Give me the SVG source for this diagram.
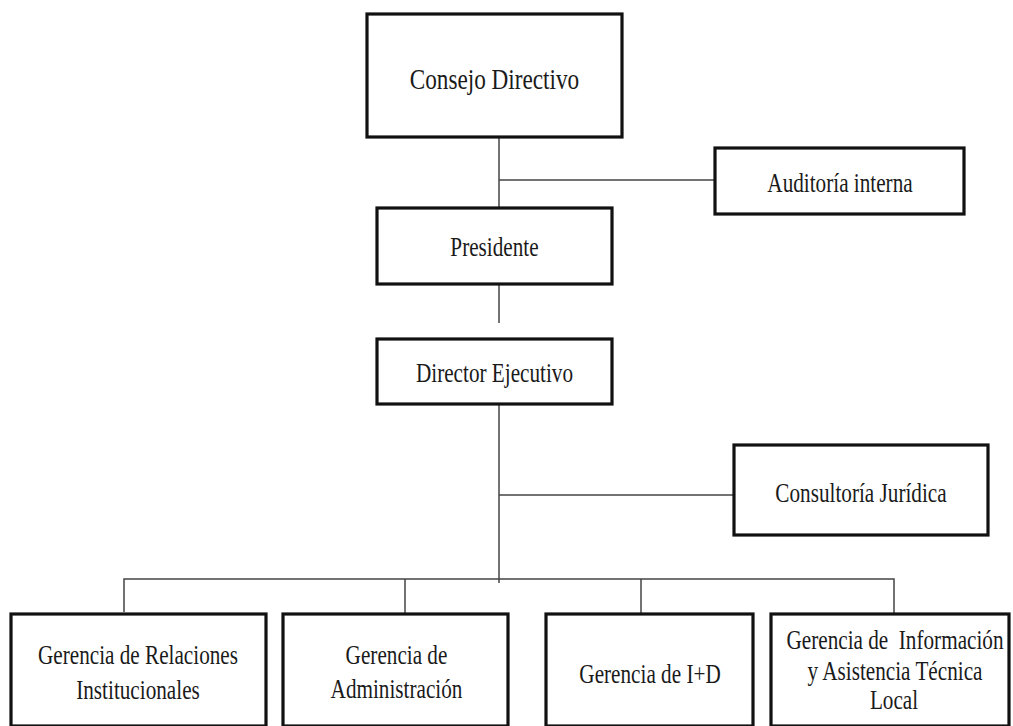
<svg xmlns="http://www.w3.org/2000/svg" width="1013" height="726" viewBox="0 0 1013 726">
<style>
.box{fill:#fff;stroke:#111;stroke-width:3.2}
.lbl{font-family:"Liberation Serif","Times New Roman",serif;font-size:26.5px;fill:#1a1a1a;text-anchor:middle}
.big{font-size:29px}
.con{fill:none;stroke:#444;stroke-width:1.5}
</style>
<rect width="1013" height="726" fill="#fff"/>
<g id="connectors">
<path class="con" d="M499 138V208"/>
<path class="con" d="M499 180H715"/>
<path class="con" d="M499 285V323"/>
<path class="con" d="M499 393V583"/>
<path class="con" d="M499 495H734"/>
<path class="con" d="M124 612V579H894V614"/>
<path class="con" d="M405 579V614"/>
<path class="con" d="M641 579V614"/>
</g>
<g id="consejo">
<rect class="box" x="367" y="14" width="255" height="123"/>
<text class="lbl big" transform="translate(494.5,89) scale(0.8,1)">Consejo Directivo</text>
</g>
<g id="auditoria">
<rect class="box" x="715" y="148" width="249" height="66"/>
<text class="lbl" transform="translate(840,192) scale(0.8,1)">Auditoría interna</text>
</g>
<g id="presidente">
<rect class="box" x="377" y="208" width="235" height="76"/>
<text class="lbl" transform="translate(494.5,256) scale(0.8,1)">Presidente</text>
</g>
<g id="director">
<rect class="box" x="377" y="339" width="235" height="65"/>
<text class="lbl" transform="translate(494.5,382) scale(0.8,1)">Director Ejecutivo</text>
</g>
<g id="consultoria">
<rect class="box" x="734" y="445" width="254" height="90"/>
<text class="lbl" transform="translate(861,502) scale(0.8,1)">Consultoría Jurídica</text>
</g>
<g id="relaciones">
<rect class="box" x="11" y="614" width="255" height="112"/>
<text class="lbl" transform="translate(138,664) scale(0.8,1)">Gerencia de Relaciones</text>
<text class="lbl" transform="translate(138,699) scale(0.8,1)">Institucionales</text>
</g>
<g id="administracion">
<rect class="box" x="283" y="614" width="225" height="112"/>
<text class="lbl" transform="translate(396.5,664) scale(0.8,1)">Gerencia de</text>
<text class="lbl" transform="translate(396.5,698) scale(0.8,1)">Administración</text>
</g>
<g id="id">
<rect class="box" x="546" y="614" width="207" height="112"/>
<text class="lbl" transform="translate(650,683) scale(0.8,1)">Gerencia de I+D</text>
</g>
<g id="informacion">
<rect class="box" x="771" y="614" width="238" height="112"/>
<text class="lbl" transform="translate(895,649) scale(0.8,1)" xml:space="preserve">Gerencia de  Información</text>
<text class="lbl" transform="translate(895,680) scale(0.8,1)">y Asistencia Técnica</text>
<text class="lbl" transform="translate(894,709) scale(0.8,1)">Local</text>
</g>
</svg>
